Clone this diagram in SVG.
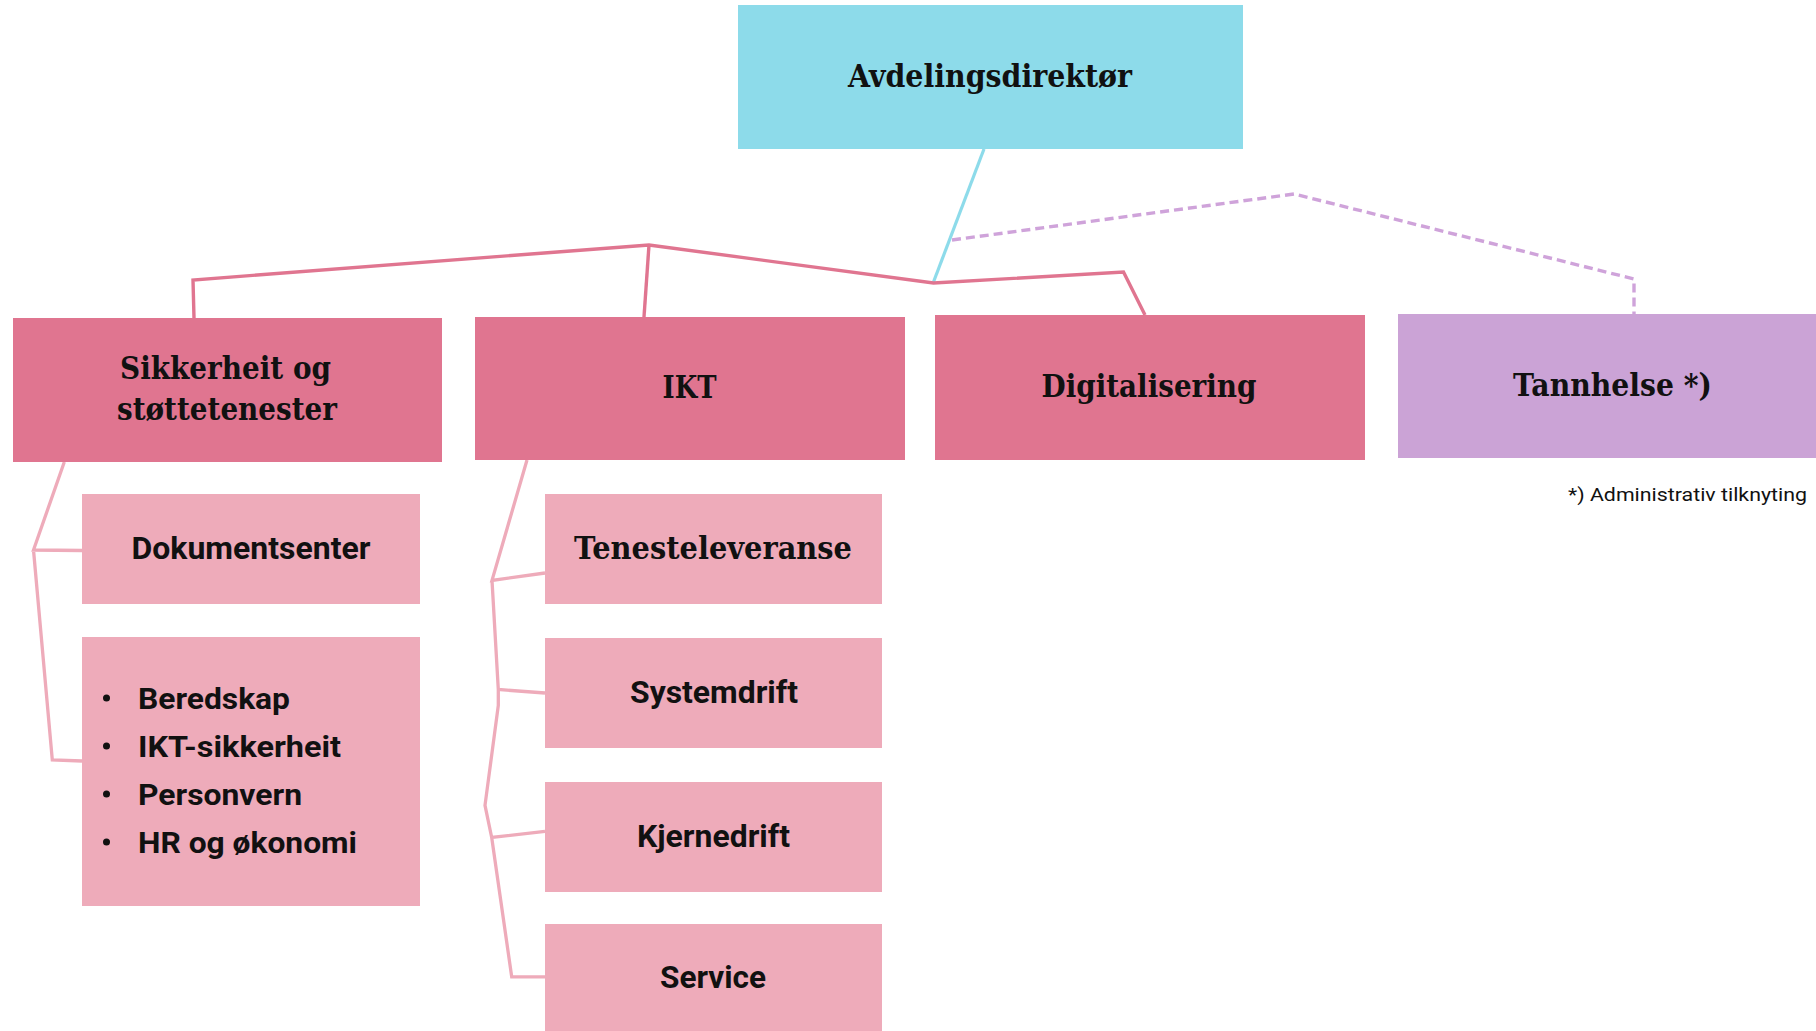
<svg xmlns="http://www.w3.org/2000/svg" width="1816" height="1031" viewBox="0 0 1816 1031">
<style>
.top{fill:#8ddbea}
.main{fill:#e07590}
.sub{fill:#eeabba}
.purple{fill:#cba3d6}
.slab{font-family:"DejaVu Serif","Liberation Serif",serif;font-weight:bold;font-size:32px;fill:#111}
.sans{font-family:Roboto,"Liberation Sans",sans-serif;font-weight:bold;font-size:32px;fill:#111}
.list{font-family:Roboto,"Liberation Sans",sans-serif;font-weight:bold;font-size:30px;fill:#111}
.note{font-family:Roboto,"Liberation Sans",sans-serif;font-size:19px;fill:#111}
.l-blue{fill:none;stroke:#8ddbea;stroke-width:3.2}
.l-main{fill:none;stroke:#e07590;stroke-width:3.4;stroke-linejoin:miter}
.l-sub{fill:none;stroke:#eeabba;stroke-width:3.3}
.l-dash{fill:none;stroke:#cfa3da;stroke-width:3.4;stroke-dasharray:9 5}
</style>
<rect width="1816" height="1031" fill="#fff"/>
<g id="connectors">
<path class="l-blue" d="M984 149 L933.5 282"/>
<path class="l-dash" d="M952 240 L1294 194 L1634 279 L1634 314"/>
<path class="l-main" d="M194 318 L193 280 L649 245 L933.5 283 L1123.5 272 L1145 315"/>
<path class="l-main" d="M649 245 L644 317"/>
<path class="l-sub" d="M64.3 462 L33.5 550 L82 550.5 M33.5 550 L52.3 760 L82 761"/>
<path class="l-sub" d="M527 460 L492 580.4 L545 573 M492 580.4 L498.3 689.5 L545 693 M498.3 689.5 L498.3 705.4 L485 805.4 L491.7 837.5 L545 831.4 M491.7 837.5 L511.7 976.8 L545 976.8"/>
</g>
<g id="n-avdelingsdirektor">
<rect class="top" x="738" y="5" width="505" height="144"/>
<text class="slab" x="990" y="87" text-anchor="middle" textLength="284" lengthAdjust="spacingAndGlyphs">Avdelingsdirektør</text>
</g>
<g id="n-sikkerheit">
<rect class="main" x="13" y="318" width="429" height="144"/>
<text class="slab" x="225.5" y="379" text-anchor="middle" textLength="211" lengthAdjust="spacingAndGlyphs">Sikkerheit og</text>
<text class="slab" x="227" y="420" text-anchor="middle" textLength="220" lengthAdjust="spacingAndGlyphs">støttetenester</text>
</g>
<g id="n-ikt">
<rect class="main" x="475" y="317" width="430" height="143"/>
<text class="slab" x="689.5" y="398" text-anchor="middle" textLength="54" lengthAdjust="spacingAndGlyphs">IKT</text>
</g>
<g id="n-digitalisering">
<rect class="main" x="935" y="315" width="430" height="145"/>
<text class="slab" x="1149" y="397" text-anchor="middle" textLength="215" lengthAdjust="spacingAndGlyphs">Digitalisering</text>
</g>
<g id="n-tannhelse">
<rect class="purple" x="1398" y="314" width="418" height="144"/>
<text class="slab" x="1612.5" y="396" text-anchor="middle" textLength="199" lengthAdjust="spacingAndGlyphs">Tannhelse *)</text>
</g>
<g id="footnote">
<text class="note" x="1568" y="501" textLength="239" lengthAdjust="spacingAndGlyphs">*) Administrativ tilknyting</text>
</g>
<g id="n-dokumentsenter">
<rect class="sub" x="82" y="494" width="338" height="110"/>
<text class="sans" x="251" y="559" text-anchor="middle" textLength="239" lengthAdjust="spacingAndGlyphs">Dokumentsenter</text>
</g>
<g id="n-stotte-liste">
<rect class="sub" x="82" y="637" width="338" height="269"/>
<circle cx="106.5" cy="698" r="3.5" fill="#111"/>
<circle cx="106.5" cy="746" r="3.5" fill="#111"/>
<circle cx="106.5" cy="794" r="3.5" fill="#111"/>
<circle cx="106.5" cy="842" r="3.5" fill="#111"/>
<text class="list" x="138" y="709" textLength="152" lengthAdjust="spacingAndGlyphs">Beredskap</text>
<text class="list" x="138" y="757" textLength="203" lengthAdjust="spacingAndGlyphs">IKT-sikkerheit</text>
<text class="list" x="138" y="805" textLength="164" lengthAdjust="spacingAndGlyphs">Personvern</text>
<text class="list" x="138" y="853" textLength="219" lengthAdjust="spacingAndGlyphs">HR og økonomi</text>
</g>
<g id="n-tenesteleveranse">
<rect class="sub" x="545" y="494" width="337" height="110"/>
<text class="slab" x="713" y="559" text-anchor="middle" textLength="278" lengthAdjust="spacingAndGlyphs">Tenesteleveranse</text>
</g>
<g id="n-systemdrift">
<rect class="sub" x="545" y="638" width="337" height="110"/>
<text class="sans" x="714" y="703" text-anchor="middle" textLength="168" lengthAdjust="spacingAndGlyphs">Systemdrift</text>
</g>
<g id="n-kjernedrift">
<rect class="sub" x="545" y="782" width="337" height="110"/>
<text class="sans" x="713.5" y="847" text-anchor="middle" textLength="153" lengthAdjust="spacingAndGlyphs">Kjernedrift</text>
</g>
<g id="n-service">
<rect class="sub" x="545" y="924" width="337" height="110"/>
<text class="sans" x="713" y="988" text-anchor="middle" textLength="106" lengthAdjust="spacingAndGlyphs">Service</text>
</g>
</svg>
